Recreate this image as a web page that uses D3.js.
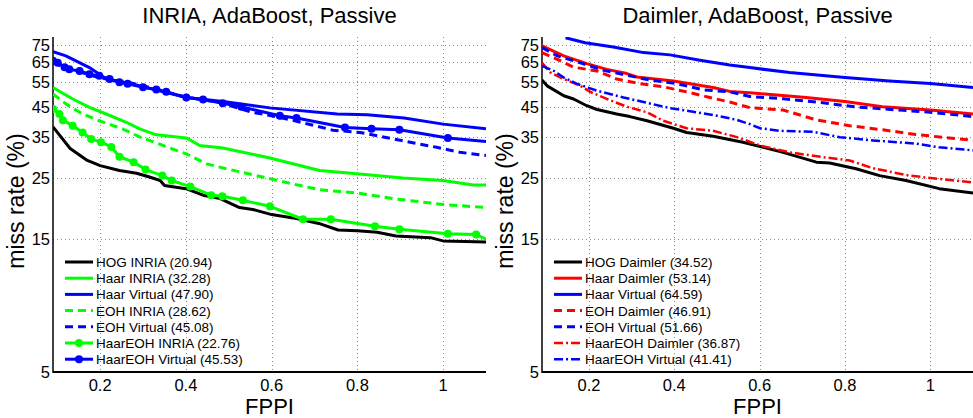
<html>
<head>
<meta charset="utf-8">
<script src="https://d3js.org/d3.v7.min.js"></script>
<style>
  body { margin: 0; background: #fff; }
  text { font-family: "Liberation Sans", Arial, sans-serif; fill: #000; }
  .grid line { stroke: #8c8c8c; stroke-dasharray: 1,3; stroke-width: 1; }
  .tick-label { font-size: 16.5px; }
  .axis-title { font-size: 22px; }
  .ylab { font-size: 23px; }
  .legend text { font-size: 13.5px; }
</style>
</head>
<body>
<svg id="chart" width="973" height="418"></svg>
<script>
// axis ticks
var xTicks = [0.2, 0.4, 0.6, 0.8, 1];
var yTicks = [5, 15, 25, 35, 45, 55, 65, 75];

// ---- INRIA panel, [fppi, miss rate %] ----
var hogInria = [[0.09,38],[0.13,31.8],[0.17,28.8],[0.2,27.6],[0.245,26.5],[0.285,25.9],[0.315,25.1],[0.34,24.4],[0.35,23.4],[0.4,22.8],[0.44,21.6],[0.48,21.0],[0.525,19.5],[0.556,19.2],[0.6,18.4],[0.65,17.9],[0.71,17.1],[0.755,16.2],[0.8,16.1],[0.846,15.9],[0.89,15.4],[0.97,15.2],[1.0,14.8],[1.1,14.65]];
var haarInria = [[0.09,52.7],[0.136,47.9],[0.175,44.7],[0.214,42.3],[0.261,39.5],[0.292,37.4],[0.331,35.6],[0.401,34.7],[0.432,32.6],[0.486,31.9],[0.596,29.4],[0.712,26.5],[0.799,25.8],[0.906,24.9],[1.0,24.4],[1.07,23.5],[1.1,23.5]];
var haarVirtual = [[0.09,70.9],[0.12,68.4],[0.175,62.1],[0.198,58.8],[0.214,56.5],[0.292,53.4],[0.401,48.5],[0.487,46.9],[0.596,44.5],[0.753,42.3],[0.823,42.0],[0.909,40.9],[1.0,38.9],[1.1,37.4]];
var eohInria = [[0.09,49.9],[0.121,45.9],[0.159,42.3],[0.198,40.0],[0.252,37.4],[0.292,35.0],[0.315,34.0],[0.37,31.6],[0.401,30.4],[0.448,28.0],[0.494,26.9],[0.579,25.1],[0.666,23.4],[0.712,22.6],[0.799,22.0],[0.883,21.0],[1.0,20.0],[1.1,19.5]];
var eohVirtual = [[0.09,64.5],[0.15,60],[0.2,57],[0.27,54.8],[0.33,52],[0.4,48.6],[0.48,46.5],[0.556,42.8],[0.579,42.3],[0.635,40.6],[0.689,38.8],[0.743,37.0],[0.806,36.3],[0.884,34.4],[0.923,33.5],[0.985,32.1],[1.039,30.8],[1.1,30.0]];
var haarEohInria = [[0.09,44.1],[0.105,42.3],[0.113,40.2],[0.136,38.4],[0.159,36.3],[0.179,34.4],[0.202,33.5],[0.226,32.2],[0.245,29.7],[0.278,28.4],[0.306,26.7],[0.345,25.4],[0.367,24.4],[0.41,23.2],[0.459,21.6],[0.485,21.4],[0.533,20.7],[0.596,19.7],[0.673,17.7],[0.738,17.7],[0.841,16.7],[0.898,16.3],[1.011,15.7],[1.077,15.6],[1.1,15.0]];
var haarEohVirtual = [[0.09,65.7],[0.101,64.6],[0.117,62.3],[0.128,61.2],[0.152,60.4],[0.175,58.8],[0.198,58.0],[0.222,56.5],[0.245,55.0],[0.264,54.3],[0.3,52.8],[0.331,51.8],[0.354,50.8],[0.401,48.5],[0.44,47.7],[0.486,46.2],[0.529,44.9],[0.619,41.7],[0.658,40.9],[0.771,37.8],[0.833,37.4],[0.898,37.1],[1.011,34.7],[1.1,33.7]];

// ---- Daimler panel ----
var hogDaimler = [[0.09,56.0],[0.102,53.4],[0.141,49.2],[0.164,47.9],[0.195,45.3],[0.219,43.9],[0.265,42.3],[0.296,41.4],[0.336,40.0],[0.398,37.6],[0.429,36.3],[0.491,35.2],[0.561,33.5],[0.655,30.8],[0.733,28.4],[0.764,28.2],[0.826,26.9],[0.881,25.4],[0.943,24.4],[1.021,22.8],[1.1,22.0]];
var haarDaimler = [[0.09,74.3],[0.141,68.4],[0.195,64.2],[0.242,61.2],[0.289,59.1],[0.312,57.5],[0.398,55.6],[0.491,52.7],[0.53,51.0],[0.577,50.4],[0.709,48.5],[0.8,46.9],[0.888,44.9],[1.0,43.7],[1.1,42.3]];
var haarVirtualD = [[0.145,79.5],[0.191,76.3],[0.257,73.7],[0.328,70.3],[0.39,69.0],[0.46,66.0],[0.53,63.4],[0.577,62.1],[0.67,59.6],[0.8,57.2],[0.904,55.6],[1.0,54.4],[1.1,52.7]];
var eohDaimler = [[0.09,70.3],[0.126,66.5],[0.164,62.3],[0.219,60.4],[0.265,56.5],[0.32,54.4],[0.374,53.0],[0.429,50.8],[0.483,48.5],[0.53,46.7],[0.577,44.6],[0.655,43.7],[0.733,40.3],[0.811,38.4],[0.889,37.1],[0.966,35.7],[1.044,34.7],[1.1,34.0]];
var eohVirtualD = [[0.09,73.3],[0.126,68.4],[0.18,64.6],[0.235,60.7],[0.296,58.0],[0.343,56.0],[0.405,54.4],[0.467,51.7],[0.53,50.8],[0.577,48.9],[0.655,48.0],[0.733,46.7],[0.823,44.9],[0.927,43.7],[1.0,42.9],[1.1,41.4]];
var haarEohDaimler = [[0.09,64.6],[0.11,59.6],[0.141,56.5],[0.18,53.4],[0.203,50.8],[0.242,47.9],[0.289,44.9],[0.336,42.9],[0.374,40.0],[0.429,37.6],[0.491,36.8],[0.545,35.0],[0.601,32.6],[0.67,30.8],[0.748,29.6],[0.811,28.8],[0.865,27.0],[0.951,25.4],[1.021,24.7],[1.1,24.0]];
var haarEohVirtualD = [[0.09,63.0],[0.118,60.4],[0.141,57.2],[0.172,54.3],[0.219,51.3],[0.281,48.5],[0.328,46.7],[0.39,44.4],[0.453,42.9],[0.5,41.7],[0.546,40.3],[0.577,38.9],[0.601,37.6],[0.648,36.8],[0.725,36.5],[0.788,34.9],[0.866,34.0],[0.967,33.1],[1.021,32.1],[1.1,31.3]];

var inriaNames = ["HOG INRIA (20.94)", "Haar INRIA (32.28)", "Haar Virtual (47.90)", "EOH INRIA (28.62)", "EOH Virtual (45.08)", "HaarEOH INRIA (22.76)", "HaarEOH Virtual (45.53)"];
var daimlerNames = ["HOG Daimler (34.52)", "Haar Daimler (53.14)", "Haar Virtual (64.59)", "EOH Daimler (46.91)", "EOH Virtual (51.66)", "HaarEOH Daimler (36.87)", "HaarEOH Virtual (41.41)"];

var GREEN = "#00ff00", BLUE = "#0000ff", RED = "#ff0000", BLACK = "#000000";
var DASH = "8,5", DASHDOT = "9,3,2,3";

var panels = [
  { title: "INRIA, AdaBoost, Passive", x0: 53, x1: 486, names: inriaNames,
    series: [
      { d: hogInria, c: BLACK }, { d: haarInria, c: GREEN }, { d: haarVirtual, c: BLUE },
      { d: eohInria, c: GREEN, dash: DASH }, { d: eohVirtual, c: BLUE, dash: DASH },
      { d: haarEohInria, c: GREEN, marker: true }, { d: haarEohVirtual, c: BLUE, marker: true }
    ] },
  { title: "Daimler, AdaBoost, Passive", x0: 542, x1: 973, names: daimlerNames,
    series: [
      { d: hogDaimler, c: BLACK }, { d: haarDaimler, c: RED }, { d: haarVirtualD, c: BLUE },
      { d: eohDaimler, c: RED, dash: DASH }, { d: eohVirtualD, c: BLUE, dash: DASH },
      { d: haarEohDaimler, c: RED, dash: DASHDOT, thin: true }, { d: haarEohVirtualD, c: BLUE, dash: DASHDOT, thin: true }
    ] }
];

var svg = d3.select("#chart");
var plotTop = 37, plotBottom = 372;

panels.forEach(function(p, pi) {
  var x = d3.scaleLinear().domain([0.09, 1.1]).range([p.x0, p.x1]);
  var y = d3.scaleLog().domain([5, 80]).range([plotBottom, plotTop]);
  var g = svg.append("g");

  g.append("clipPath").attr("id", "clip" + pi)
    .append("rect").attr("x", p.x0).attr("y", plotTop).attr("width", p.x1 - p.x0).attr("height", plotBottom - plotTop);

  // grid
  var grid = g.append("g").attr("class", "grid");
  grid.selectAll(".vg").data(xTicks).enter().append("line")
    .attr("x1", function(d) { return Math.round(x(d)) + 0.5; })
    .attr("x2", function(d) { return Math.round(x(d)) + 0.5; })
    .attr("y1", plotTop).attr("y2", plotBottom);
  grid.selectAll(".hg").data(yTicks.slice(1)).enter().append("line")
    .attr("y1", function(d) { return Math.round(y(d)) + 0.5; })
    .attr("y2", function(d) { return Math.round(y(d)) + 0.5; })
    .attr("x1", p.x0).attr("x2", p.x1);

  // axes lines
  g.append("line").attr("x1", p.x0).attr("x2", p.x0).attr("y1", plotTop).attr("y2", plotBottom + 1)
    .attr("stroke", "#000").attr("stroke-width", 1.5);
  g.append("line").attr("x1", p.x0).attr("x2", p.x1).attr("y1", plotBottom).attr("y2", plotBottom)
    .attr("stroke", "#000").attr("stroke-width", 2);

  // tick labels
  g.selectAll(".xl").data(xTicks).enter().append("text")
    .attr("class", "tick-label").attr("x", function(d) { return x(d); }).attr("y", 391)
    .attr("text-anchor", "middle").text(function(d) { return String(d); });
  g.selectAll(".yl").data(yTicks).enter().append("text")
    .attr("class", "tick-label").attr("x", p.x0 - 3).attr("y", function(d) { return y(d) + 6; })
    .attr("text-anchor", "end").text(function(d) { return d; });

  // titles
  g.append("text").attr("class", "axis-title").attr("x", (p.x0 + p.x1) / 2).attr("y", 23)
    .attr("text-anchor", "middle").text(p.title);
  g.append("text").attr("class", "axis-title").attr("x", (p.x0 + p.x1) / 2).attr("y", 414)
    .attr("text-anchor", "middle").text("FPPI");
  g.append("text").attr("class", "ylab")
    .attr("transform", "translate(" + (p.x0 - 29) + ",201) rotate(-90)")
    .attr("text-anchor", "middle").text("miss rate (%)");

  // curves
  var line = d3.line().x(function(d) { return x(d[0]); }).y(function(d) { return y(d[1]); });
  var plot = g.append("g").attr("clip-path", "url(#clip" + pi + ")");
  p.series.forEach(function(s) {
    plot.append("path").datum(s.d).attr("d", line)
      .attr("fill", "none").attr("stroke", s.c).attr("stroke-width", s.thin ? 2.5 : 3)
      .attr("stroke-dasharray", s.dash || null).attr("stroke-linejoin", "round");
    if (s.marker) {
      plot.selectAll(null).data(s.d.slice(0, -1)).enter().append("circle")
        .attr("cx", function(d) { return x(d[0]); }).attr("cy", function(d) { return y(d[1]); })
        .attr("r", 4).attr("fill", s.c);
    }
  });

  // legend
  var lx = p.x0 + 12, ly = 262, step = 16.2;
  var leg = g.append("g").attr("class", "legend");
  p.series.forEach(function(s, i) {
    var yy = ly + i * step;
    leg.append("line").attr("x1", lx).attr("x2", lx + 28).attr("y1", yy).attr("y2", yy)
      .attr("stroke", s.c).attr("stroke-width", s.thin ? 2.5 : 3).attr("stroke-dasharray", s.dash || null);
    if (s.marker) leg.append("circle").attr("cx", lx + 14).attr("cy", yy).attr("r", 4).attr("fill", s.c);
    leg.append("text").attr("x", lx + 31).attr("y", yy + 5).text(p.names[i]);
  });
});
</script>
</body>
</html>
